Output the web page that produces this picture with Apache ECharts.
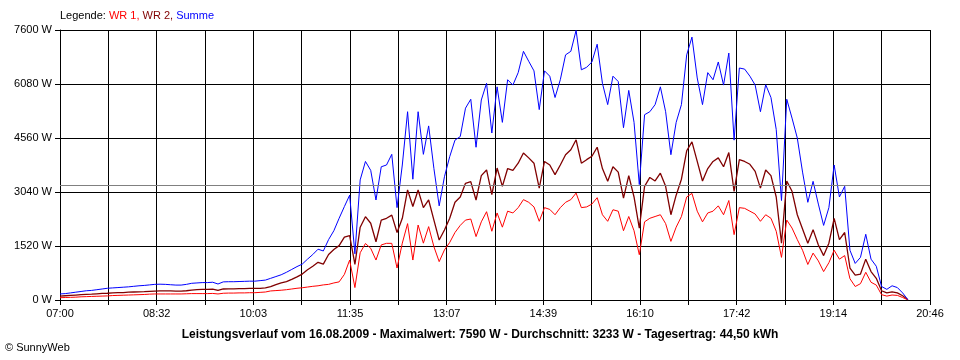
<!DOCTYPE html>
<html>
<head>
<meta charset="utf-8">
<script src="https://cdn.jsdelivr.net/npm/echarts@6/dist/echarts.min.js"></script>
<style>
html,body{margin:0;padding:0;background:#fff;}
#c{width:960px;height:360px;}
</style>
</head>
<body>
<div id="c"></div>
<script>
// Time axis: 07:00 to 20:46 (826 minutes), samples every 5 minutes from 07:00
var startLabel = '07:00';
var sampleStepMin = 5;
var spanMin = 826;
var tickLabels = ['07:00','08:32','10:03','11:35','13:07','14:39','16:10','17:42','19:14','20:46'];
var yTicks = [0, 1520, 3040, 4560, 6080, 7600];
var averageW = 3233;

var wr1 = [
 65,70,75,80,90,95,100,105,110,115,
 125,130,135,140,145,150,155,165,170,170,
 170,170,170,170,175,180,180,180,180,185,
 170,190,195,195,200,200,205,205,215,225,
 255,265,275,290,310,330,345,365,385,400,
 425,440,480,510,720,1125,350,1330,1590,1455,
 1125,1550,1595,1595,900,1600,2150,1125,2110,1600,
 2065,1500,1080,1410,1620,1900,2100,2250,2280,1785,
 2200,2485,1935,2450,2050,2500,2450,2600,2825,2750,
 2620,2215,2600,2550,2400,2600,2750,2825,3010,2600,
 2620,2700,2880,2400,2215,2540,2500,1950,2350,1950,
 1275,2200,2300,2350,2400,2150,1650,2050,2350,2900,
 3000,2500,2200,2450,2500,2650,2400,2800,1840,2600,
 2580,2500,2420,2215,2400,2300,1935,1200,2250,2025,
 1700,1400,1000,1320,1100,800,1050,1400,1150,1250,
 600,380,460,780,500,420,150,110,140,130,
 70,5
];
var wr2 = [
 110,120,130,140,150,160,165,175,185,190,
 200,205,210,220,225,230,235,245,250,255,
 255,255,250,250,260,280,290,300,300,305,
 270,310,315,315,320,320,325,325,330,340,
 375,430,480,520,580,650,730,850,950,1060,
 1010,1280,1420,1530,1770,1810,1000,2050,2345,2160,
 1640,2250,2300,2390,1900,2300,3100,2630,3095,2600,
 2815,2250,1690,1970,2300,2750,2900,3285,3330,2815,
 3500,3660,2965,3715,3200,3700,3650,3850,4140,4000,
 3850,3150,3900,3800,3530,3800,4090,4230,4510,3850,
 3950,4045,4300,3700,3340,3750,3600,2870,3500,2900,
 2025,3200,3450,3350,3570,3200,2400,2950,3400,4200,
 4450,3900,3350,3700,3900,4000,3750,4150,3060,3950,
 3900,3820,3620,3150,3660,3500,2900,1600,3350,3060,
 2400,2000,1600,1980,1550,1250,1600,2300,1700,1900,
 900,700,730,1150,800,610,260,200,230,200,
 120,5
];
var summe = [
 170,180,200,220,240,260,270,290,310,330,
 340,350,360,370,385,400,410,425,440,445,
 440,430,420,420,440,470,480,490,490,500,
 450,510,515,515,520,525,530,530,545,560,
 610,660,710,780,860,940,1010,1150,1280,1430,
 1380,1700,1950,2300,2630,2950,1300,3380,3900,3650,
 2815,3750,3800,4100,2600,3800,5300,3400,5300,4100,
 4900,3700,2650,3470,4035,4500,4600,5400,5650,4300,
 5630,6100,4700,6000,5000,6200,6050,6400,7000,6720,
 6450,5360,6450,6300,5700,6200,6900,7000,7590,6480,
 6550,6700,7200,6100,5500,6300,6150,4850,5900,5000,
 3250,5215,5300,5500,6000,5300,4090,5000,5500,6900,
 7400,6250,5500,6400,6200,6700,6050,6950,4500,6530,
 6500,6300,6050,5300,6060,5700,4800,2800,5650,5120,
 4560,3600,2750,3340,2700,2100,2600,3800,2900,3200,
 1400,1030,1200,1850,1150,950,380,300,400,350,
 200,10
];

var UNITS = 18;                 // 18 grid intervals, a label on every second
var minPerUnit = spanMin / UNITS;
function pts(arr){
  return arr.map(function(v,k){ return [k*sampleStepMin/minPerUnit, v]; });
}
var FONT = '"Liberation Sans", Arial, sans-serif';

var chart = echarts.init(document.getElementById('c'), null, {renderer:'canvas'});
chart.setOption({
  animation:false,
  backgroundColor:'#fff',
  grid:{left:60, right:30, top:30, bottom:60, containLabel:false},
  xAxis:{
    type:'value', min:0, max:UNITS, interval:1,
    axisLine:{show:true, lineStyle:{color:'#000', width:1}},
    axisTick:{show:true, length:5, lineStyle:{color:'#000'}},
    splitLine:{show:true, lineStyle:{color:'#000', width:1}},
    axisLabel:{
      margin:8, color:'#000', fontSize:11, fontFamily:FONT,
      formatter:function(v){ var k=Math.round(v); return (k%2===0)? tickLabels[k/2] : ''; }
    }
  },
  yAxis:{
    type:'value', min:yTicks[0], max:yTicks[yTicks.length-1], interval:yTicks[1]-yTicks[0],
    axisLine:{show:true, lineStyle:{color:'#000', width:1}},
    axisTick:{show:true, length:5, lineStyle:{color:'#000'}},
    splitLine:{show:true, lineStyle:{color:'#000', width:1}},
    axisLabel:{margin:8, color:'#000', fontSize:11, fontFamily:FONT,
      formatter:function(v){ return String(Math.round(v)) + ' W'; }}
  },
  series:[
    {type:'line', name:'avg', data:[], z:1, silent:true,
     markLine:{silent:true, symbol:'none', label:{show:false},
       lineStyle:{color:'#808080', width:1, type:'solid'},
       data:[{yAxis:averageW}]}},
    {type:'line', name:'WR 2', data:pts(wr2), showSymbol:false, z:2,
     lineStyle:{color:'#800000', width:1.3}, itemStyle:{color:'#800000'}},
    {type:'line', name:'WR 1', data:pts(wr1), showSymbol:false, z:3,
     lineStyle:{color:'#ff0000', width:1}, itemStyle:{color:'#ff0000'}},
    {type:'line', name:'Summe', data:pts(summe), showSymbol:false, z:4,
     lineStyle:{color:'#0000ff', width:1}, itemStyle:{color:'#0000ff'}}
  ],
  graphic:[
    {type:'text', left:60, top:10, style:{
      text:'{k|Legende: }{a|WR 1, }{b|WR 2, }{c|Summe}',
      rich:{
        k:{fill:'#000', fontSize:11, fontFamily:FONT},
        a:{fill:'#ff0000', fontSize:11, fontFamily:FONT},
        b:{fill:'#800000', fontSize:11, fontFamily:FONT},
        c:{fill:'#0000ff', fontSize:11, fontFamily:FONT}
      }}},
    {type:'text', left:'center', top:329, style:{
      text:'Leistungsverlauf vom 16.08.2009 - Maximalwert: 7590 W - Durchschnitt: 3233 W - Tagesertrag: 44,50 kWh',
      fill:'#000', fontSize:12, fontWeight:'bold', fontFamily:FONT}},
    {type:'text', left:5, top:342, style:{
      text:'\u00A9 SunnyWeb', fill:'#000', fontSize:11, fontFamily:FONT}}
  ]
});
</script>
</body>
</html>
